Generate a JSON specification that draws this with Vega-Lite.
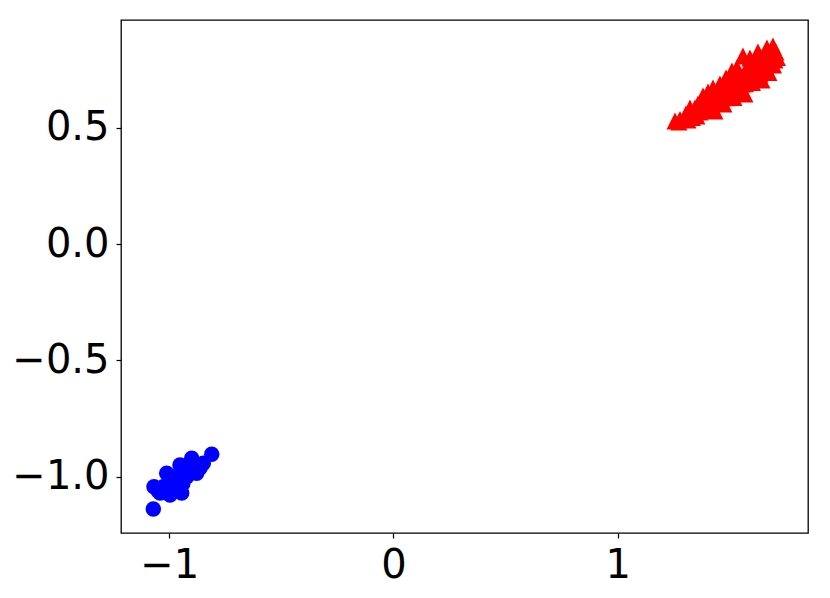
{
  "$schema": "https://vega.github.io/schema/vega-lite/v6.json",
  "autosize": "none",
  "width": 687,
  "height": 513,
  "padding": {"left": 121, "top": 20, "right": 22, "bottom": 65},
  "background": "white",
  "config": {
    "view": {"stroke": "black", "strokeWidth": 1.3},
    "axis": {
      "domain": false,
      "grid": false,
      "ticks": true,
      "tickColor": "black",
      "tickSize": 5,
      "tickWidth": 1.2,
      "labelFont": "DejaVu Sans",
      "labelFontSize": 40,
      "labelColor": "black",
      "labelPadding": 7,
      "title": null
    }
  },
  "data": {"values": [
    {"x": -1.0714, "y": -1.1389, "cls": "blue"},
    {"x": -0.8109, "y": -0.9037, "cls": "blue"},
    {"x": -1.0682, "y": -1.0430, "cls": "blue"},
    {"x": -0.9969, "y": -1.0787, "cls": "blue"},
    {"x": -0.9447, "y": -1.0701, "cls": "blue"},
    {"x": -1.0116, "y": -0.9854, "cls": "blue"},
    {"x": -0.9523, "y": -0.9497, "cls": "blue"},
    {"x": -0.9001, "y": -0.9209, "cls": "blue"},
    {"x": -0.8778, "y": -0.9854, "cls": "blue"},
    {"x": -0.8483, "y": -0.9424, "cls": "blue"},
    {"x": -0.9746, "y": -1.0142, "cls": "blue"},
    {"x": -1.0268, "y": -1.0430, "cls": "blue"},
    {"x": -0.9224, "y": -1.0000, "cls": "blue"},
    {"x": -1.0410, "y": -1.0701, "cls": "blue"},
    {"x": -0.9857, "y": -1.0357, "cls": "blue"},
    {"x": -0.9166, "y": -0.9497, "cls": "blue"},
    {"x": -0.8631, "y": -0.9626, "cls": "blue"},
    {"x": -1.0000, "y": -1.0200, "cls": "blue"},
    {"x": -0.9600, "y": -0.9900, "cls": "blue"},
    {"x": -0.9300, "y": -0.9700, "cls": "blue"},
    {"x": -0.8900, "y": -0.9500, "cls": "blue"},
    {"x": -1.0500, "y": -1.0600, "cls": "blue"},
    {"x": -0.9700, "y": -1.0500, "cls": "blue"},
    {"x": -0.9400, "y": -1.0300, "cls": "blue"},
    {"x": 1.2556, "y": 0.5299, "cls": "red"},
    {"x": 1.2779, "y": 0.5363, "cls": "red"},
    {"x": 1.3805, "y": 0.6374, "cls": "red"},
    {"x": 1.4251, "y": 0.6718, "cls": "red"},
    {"x": 1.4563, "y": 0.6890, "cls": "red"},
    {"x": 1.5098, "y": 0.7449, "cls": "red"},
    {"x": 1.5589, "y": 0.8095, "cls": "red"},
    {"x": 1.5901, "y": 0.8009, "cls": "red"},
    {"x": 1.6258, "y": 0.8267, "cls": "red"},
    {"x": 1.6659, "y": 0.8439, "cls": "red"},
    {"x": 1.6927, "y": 0.8525, "cls": "red"},
    {"x": 1.2734, "y": 0.5256, "cls": "red"},
    {"x": 1.3336, "y": 0.5449, "cls": "red"},
    {"x": 1.4005, "y": 0.5880, "cls": "red"},
    {"x": 1.4741, "y": 0.6030, "cls": "red"},
    {"x": 1.5187, "y": 0.6310, "cls": "red"},
    {"x": 1.6012, "y": 0.6955, "cls": "red"},
    {"x": 1.6748, "y": 0.7385, "cls": "red"},
    {"x": 1.7127, "y": 0.8030, "cls": "red"},
    {"x": 1.7061, "y": 0.8267, "cls": "red"},
    {"x": 1.3046, "y": 0.5600, "cls": "red"},
    {"x": 1.3225, "y": 0.5772, "cls": "red"},
    {"x": 1.3448, "y": 0.5858, "cls": "red"},
    {"x": 1.3582, "y": 0.6030, "cls": "red"},
    {"x": 1.3671, "y": 0.5686, "cls": "red"},
    {"x": 1.3894, "y": 0.6202, "cls": "red"},
    {"x": 1.4028, "y": 0.6288, "cls": "red"},
    {"x": 1.4117, "y": 0.6030, "cls": "red"},
    {"x": 1.4340, "y": 0.6417, "cls": "red"},
    {"x": 1.4474, "y": 0.6546, "cls": "red"},
    {"x": 1.4563, "y": 0.6202, "cls": "red"},
    {"x": 1.4786, "y": 0.6718, "cls": "red"},
    {"x": 1.4920, "y": 0.6890, "cls": "red"},
    {"x": 1.5009, "y": 0.6460, "cls": "red"},
    {"x": 1.5232, "y": 0.7062, "cls": "red"},
    {"x": 1.5366, "y": 0.7234, "cls": "red"},
    {"x": 1.5455, "y": 0.6718, "cls": "red"},
    {"x": 1.5678, "y": 0.7406, "cls": "red"},
    {"x": 1.5812, "y": 0.7578, "cls": "red"},
    {"x": 1.5901, "y": 0.7062, "cls": "red"},
    {"x": 1.6124, "y": 0.7708, "cls": "red"},
    {"x": 1.6258, "y": 0.7837, "cls": "red"},
    {"x": 1.6347, "y": 0.7320, "cls": "red"},
    {"x": 1.6481, "y": 0.8009, "cls": "red"},
    {"x": 1.6570, "y": 0.7665, "cls": "red"},
    {"x": 1.6704, "y": 0.8138, "cls": "red"},
    {"x": 1.6793, "y": 0.7837, "cls": "red"},
    {"x": 1.6882, "y": 0.8267, "cls": "red"},
    {"x": 1.7016, "y": 0.7923, "cls": "red"},
    {"x": 1.3136, "y": 0.5342, "cls": "red"},
    {"x": 1.3537, "y": 0.5514, "cls": "red"},
    {"x": 1.4206, "y": 0.5772, "cls": "red"},
    {"x": 1.4652, "y": 0.6374, "cls": "red"},
    {"x": 1.5544, "y": 0.6890, "cls": "red"},
    {"x": 1.5990, "y": 0.7234, "cls": "red"},
    {"x": 1.6436, "y": 0.7492, "cls": "red"},
    {"x": 1.6615, "y": 0.8267, "cls": "red"},
    {"x": 1.3300, "y": 0.5600, "cls": "red"},
    {"x": 1.3750, "y": 0.5950, "cls": "red"},
    {"x": 1.3950, "y": 0.6050, "cls": "red"},
    {"x": 1.4400, "y": 0.6150, "cls": "red"},
    {"x": 1.4900, "y": 0.6300, "cls": "red"},
    {"x": 1.5300, "y": 0.6600, "cls": "red"},
    {"x": 1.5700, "y": 0.6900, "cls": "red"},
    {"x": 1.6150, "y": 0.7150, "cls": "red"},
    {"x": 1.6600, "y": 0.7400, "cls": "red"},
    {"x": 1.6950, "y": 0.7700, "cls": "red"},
    {"x": 1.4028, "y": 0.6546, "cls": "red"},
    {"x": 1.4831, "y": 0.7148, "cls": "red"},
    {"x": 1.5321, "y": 0.7578, "cls": "red"},
    {"x": 1.3225, "y": 0.5858, "cls": "red"},
    {"x": 1.5678, "y": 0.6460, "cls": "red"},
    {"x": 1.6436, "y": 0.7062, "cls": "red"},
    {"x": 1.4340, "y": 0.5729, "cls": "red"}
  ]},
  "encoding": {
    "x": {"field": "x", "type": "quantitative",
          "scale": {"domain": [-1.2155, 1.849], "nice": false, "zero": false},
          "axis": {"values": [-1, 0, 1], "format": "d"}},
    "y": {"field": "y", "type": "quantitative",
          "scale": {"domain": [-1.242, 0.964], "nice": false, "zero": false},
          "axis": {"values": [-1.0, -0.5, 0.0, 0.5], "format": ".1f"}}
  },
  "layer": [
    {
      "transform": [{"filter": "datum.cls === 'blue'"}],
      "mark": {"type": "point", "shape": "circle", "filled": true, "size": 240, "color": "#0000ff", "opacity": 1, "strokeWidth": 0}
    },
    {
      "transform": [{"filter": "datum.cls === 'red'"}],
      "mark": {"type": "point", "shape": "M0,-1L1,1L-1,1Z", "filled": true, "size": 289, "color": "#ff0000", "opacity": 1, "strokeWidth": 0}
    }
  ]
}
